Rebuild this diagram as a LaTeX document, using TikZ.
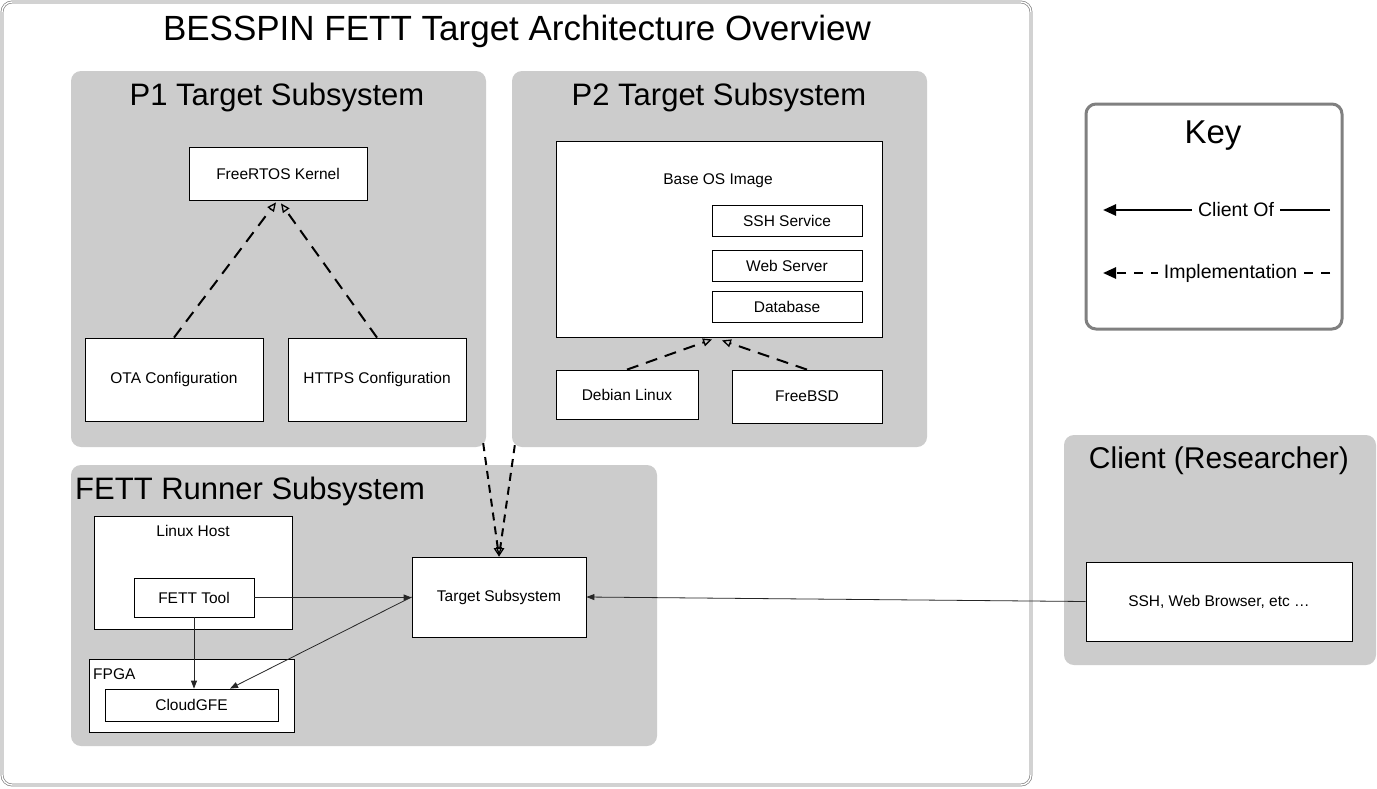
\documentclass[tikz,border=0pt]{standalone}
\usepackage{fontspec}
\setmainfont{Liberation Sans}
\usetikzlibrary{arrows.meta}
\newcommand\fsz[1]{\fontsize{#1}{#1}\selectfont}
\definecolor{grp}{HTML}{CCCCCC}
\definecolor{keyb}{HTML}{808080}
\begin{document}
\begin{tikzpicture}[x=1pt,y=-1pt,
  box/.style={draw=black, fill=white, line width=0.8pt, inner sep=0pt, font=\fsz{15.5}},
  group/.style={fill=grp, draw=none, rounded corners=10pt, inner sep=0pt},
  gtitle/.style={font=\fsz{31}, inner sep=0pt},
  thinarrow/.style={draw=black!85, line width=0.8pt, -{Triangle[length=8pt,width=6pt]}},
  impl/.style={draw=black, line width=2pt, dash pattern=on 12pt off 8pt, -{Triangle[open,length=9pt,width=8pt,line width=1.3pt]}},
  impl2/.style={draw=black, line width=2pt, dash pattern=on 8pt off 6pt, -{Triangle[open,length=9pt,width=8pt,line width=1.3pt]}}
]
\useasboundingbox (0,0) rectangle (1377,788);
\fill[white] (0,0) rectangle (1377,788);

% outer frame
\node[draw=keyb, double=white, double distance=1.4pt, line width=0.7pt, rounded corners=10pt,
      minimum width=1029pt, minimum height=783pt, inner sep=0pt] (frame) at (516.5,393.5) {};
\node[font=\fsz{35}, inner sep=0pt] (title) at (517,31) {BESSPIN FETT Target Architecture Overview};

% groups
\node[group, minimum width=415pt, minimum height=376pt] (p1) at (278.5,259) {};
\node[group, minimum width=415pt, minimum height=376pt] (p2) at (719.5,259) {};
\node[group, minimum width=586pt, minimum height=281pt] (runner) at (364,605.5) {};
\node[group, minimum width=312pt, minimum height=230pt] (client) at (1220,550) {};

\node[gtitle] (p1t) at (277,97) {P1 Target Subsystem};
\node[gtitle] (p2t) at (719,97) {P2 Target Subsystem};
\node[gtitle, anchor=west] (runt) at (75,491) {FETT Runner Subsystem};
\node[gtitle, font=\fsz{30}] (clit) at (1219,461) {Client (Researcher)};

% P1
\node[box, minimum width=178pt, minimum height=53pt] (free) at (278,173.5) {FreeRTOS Kernel};
\node[box, minimum width=178pt, minimum height=83pt] (ota) at (174,379.5) {OTA Configuration};
\node[box, minimum width=178pt, minimum height=83pt] (https) at (377,379.5) {HTTPS Configuration};

% P2
\node[box, minimum width=326pt, minimum height=196pt] (base) at (719,239) {};
\node[font=\fsz{15.5}, inner sep=0pt] (baset) at (718,181) {Base OS Image};
\node[box, minimum width=150pt, minimum height=31pt] (ssh) at (787,220.5) {SSH Service};
\node[box, minimum width=150pt, minimum height=31pt] (web) at (787,265.5) {Web Server};
\node[box, minimum width=150pt, minimum height=31pt] (db) at (787,306.5) {Database};
\node[box, minimum width=142pt, minimum height=49pt] (deb) at (627,394.5) {Debian Linux};
\node[box, minimum width=150pt, minimum height=53pt] (bsd) at (807,396.5) {FreeBSD};

% Runner
\node[box, minimum width=198pt, minimum height=113pt] (host) at (193,572.5) {};
\node[font=\fsz{15.5}, inner sep=0pt] (hostt) at (193,531) {Linux Host};
\node[box, minimum width=120pt, minimum height=39pt] (fett) at (194,597.5) {FETT Tool};
\node[box, minimum width=205pt, minimum height=73pt] (fpga) at (191.5,695.5) {};
\node[font=\fsz{15.5}, inner sep=0pt, anchor=west] (fpgat) at (93,674) {FPGA};
\node[box, minimum width=173pt, minimum height=32pt] (cloud) at (191.5,705) {CloudGFE};
\node[box, minimum width=174pt, minimum height=80pt] (target) at (499,597) {Target Subsystem};

% Client
\node[box, minimum width=266pt, minimum height=79pt] (sshc) at (1219,601.5) {SSH, Web Browser, etc \ldots};

% Key
\node[draw=keyb, fill=white, line width=3pt, rounded corners=10pt, minimum width=256pt, minimum height=225pt, inner sep=0pt] (key) at (1214,216.5) {};
\node[font=\fsz{33}, inner sep=0pt] (keyt) at (1213,136) {Key};
\coordinate (k1a) at (1103,210);
\coordinate (k1b) at (1330,210);
\coordinate (k2a) at (1103,273);
\coordinate (k2b) at (1330,273);
\draw[line width=2.5pt, -{Triangle[length=13pt,width=11pt]}] (k1b) -- node[pos=0.414, fill=white, inner sep=6pt, font=\fsz{19.5}] (kl1) {Client Of} (k1a);
\draw[line width=2.5pt, dash pattern=on 9pt off 8pt, -{Triangle[length=13pt,width=11pt]}] (k2b) -- node[pos=0.438, fill=white, inner sep=6pt, font=\fsz{19.5}] (kl2) {Implementation} (k2a);

% implementation arrows
\draw[impl] (ota.north) -- ([xshift=-2pt,yshift=-2pt]free.south);
\draw[impl] (https.north) -- ([xshift=3pt,yshift=-3pt]free.south);
\draw[impl] (deb.north) -- ([xshift=-7pt,yshift=-2pt]base.south);
\draw[impl] (bsd.north) -- ([xshift=3pt,yshift=-3pt]base.south);
\draw[impl2] ([xshift=-3pt,yshift=4pt]p1.south east) -- (target.north);
\draw[impl2] ([xshift=3pt,yshift=2pt]p2.south west) -- (target.north);

% client-of arrows
\draw[thinarrow] (fett.east) -- (fett.east -| target.west);
\draw[thinarrow] (fett.south) -- (fett.south |- cloud.north);
\draw[thinarrow] (target.west) -- ([xshift=38.5pt]cloud.north);
\draw[thinarrow] (sshc.west) -- (target.east);
\end{tikzpicture}
\end{document}
